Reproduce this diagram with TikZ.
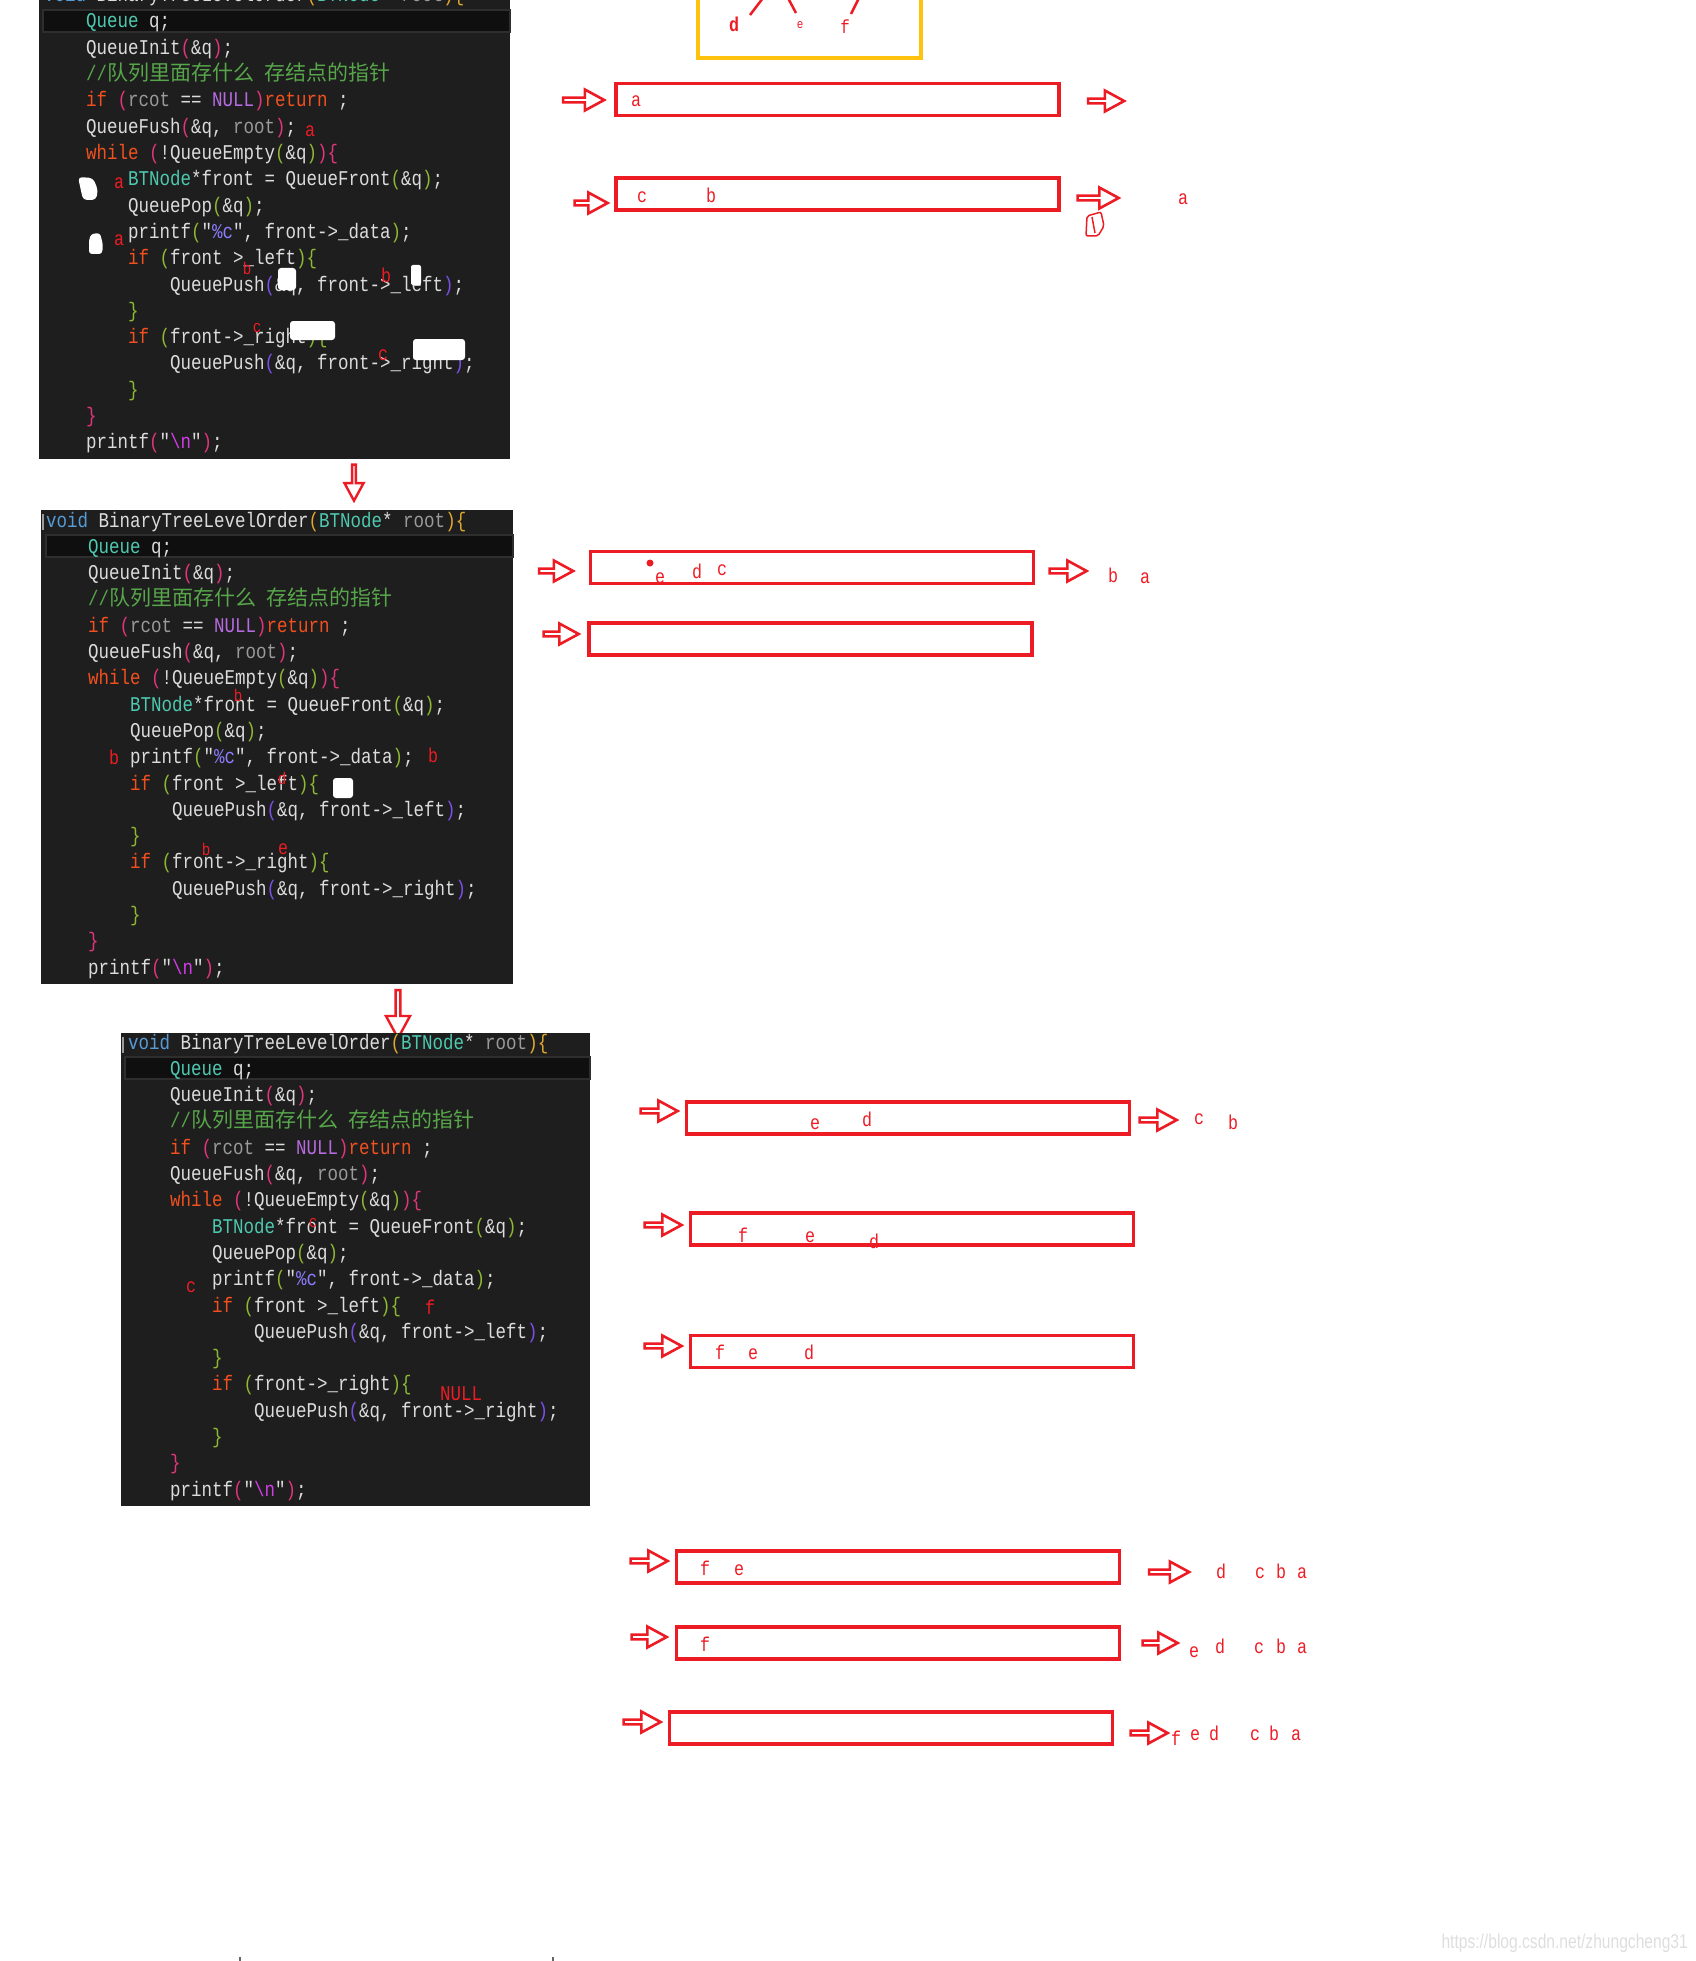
\documentclass[tikz,border=0pt]{standalone}
\usepackage{fontspec}
\usetikzlibrary{shapes.arrows}
\newfontfamily\codefont[FakeStretch=0.8333]{Liberation Mono}
\newfontfamily\cjkfont{Noto Sans CJK SC}
\newfontfamily\urlfont[FakeStretch=0.78]{Liberation Sans}

\definecolor{codebg}{HTML}{1E1E1E}
\definecolor{linebar}{HTML}{0F0F0F}
\definecolor{lineedge}{HTML}{2E2E2E}
\definecolor{codetx}{HTML}{DCDCDC}
\definecolor{codety}{HTML}{4EC9B0}
\definecolor{codekw}{HTML}{F2501E}
\definecolor{codecm}{HTML}{57A64A}
\definecolor{codemc}{HTML}{B86BE0}
\definecolor{codepa}{HTML}{9A9A9A}
\definecolor{codevd}{HTML}{569CD6}
\definecolor{codefm}{HTML}{8C7CFF}
\definecolor{codenl}{HTML}{D23CE8}
\definecolor{brgold}{HTML}{E0A82E}
\definecolor{brone}{HTML}{E0357A}
\definecolor{brtwo}{HTML}{8DB832}
\definecolor{brthree}{HTML}{7B4FE6}
\definecolor{paintred}{HTML}{ED1C24}
\definecolor{paintyellow}{HTML}{FFC20E}

\newlength\cw
\setlength\cw{10.5pt}
\newcommand{\ind}[1]{\hspace*{#1\cw}}
\newcommand{\cty}[1]{\textcolor{codety}{#1}}
\newcommand{\ckw}[1]{\textcolor{codekw}{#1}}
\newcommand{\cpa}[1]{\textcolor{codepa}{#1}}
\newcommand{\brg}[1]{\textcolor{brgold}{#1}}
\newcommand{\bro}[1]{\textcolor{brone}{#1}}
\newcommand{\brt}[1]{\textcolor{brtwo}{#1}}
\newcommand{\brh}[1]{\textcolor{brthree}{#1}}

% the lines of BinaryTreeLevelOrder, one item per line
\newcommand{\codelist}{%
{\textcolor{codevd}{void} BinaryTreeLevelOrder\brg{(}\cty{BTNode}* \cpa{root}\brg{)\{}},%
{\ind{4}\cty{Queue} q;},%
{\ind{4}QueueInit\bro{(}\&q\bro{)};},%
{\ind{4}\textcolor{codecm}{//{\cjkfont 队列里面存什么} {\cjkfont 存结点的指针}}},%
{\ind{4}\ckw{if} \bro{(}\cpa{rcot} == \textcolor{codemc}{NULL}\bro{)}\ckw{return} ;},%
{\ind{4}QueueFush\bro{(}\&q, \cpa{root}\bro{)};},%
{\ind{4}\ckw{while} \bro{(}!QueueEmpty\brt{(}\&q\brt{)}\bro{)\{}},%
{\ind{8}\cty{BTNode}*front = QueueFront\brt{(}\&q\brt{)};},%
{\ind{8}QueuePop\brt{(}\&q\brt{)};},%
{\ind{8}printf\brt{(}"\textcolor{codefm}{\%c}", front->\_data\brt{)};},%
{\ind{8}\ckw{if} \brt{(}front >\_left\brt{)\{}},%
{\ind{12}QueuePush\brh{(}\&q, front->\_left\brh{)};},%
{\ind{8}\brt{\}}},%
{\ind{8}\ckw{if} \brt{(}front->\_right\brt{)\{}},%
{\ind{12}QueuePush\brh{(}\&q, front->\_right\brh{)};},%
{\ind{8}\brt{\}}},%
{\ind{4}\bro{\}}},%
{\ind{4}printf\bro{(}"\textcolor{codenl}{\textbackslash n}"\bro{)};}%
}

\begin{document}
\begin{tikzpicture}[x=1pt,y=-1pt,
  codeline/.style={anchor=base west,inner sep=0pt,text=codetx,font=\codefont\fontsize{21}{26}\selectfont},
  redmark/.style={anchor=base,inner sep=0pt,text=paintred,font=\codefont\fontsize{20}{20}\selectfont},
  qbox/.style={draw=paintred,line width=3.5pt,minimum width=443pt,minimum height=32pt,inner sep=0pt},
  qarrow/.style={single arrow,draw=paintred,fill=white,line width=2.6pt,inner sep=0pt,
    minimum height=37pt,minimum width=21pt,single arrow head extend=4.5pt,single arrow tip angle=57},
  downarrow/.style={qarrow,shape border rotate=270}]
\useasboundingbox (0,0) rectangle (1696,1961);

% first step: a is taken out
\fill[codebg] (39,-5) rectangle (510,459);
\filldraw[fill=linebar,draw=lineedge,line width=1.5pt] (43,10) rectangle (510,32);
\foreach \codeln [count=\i from 0] in \codelist
  \node[codeline] (codeA-\i) at (44,1.7+\i*26.3) {\codeln};
\fill[white,rounded corners=4pt] (78,177) -- (93,178) -- (98,190) -- (96,200) -- (83,200) -- cycle;
\fill[white,rounded corners=3pt] (91,234) -- (100,233) -- (103,245) -- (102,254) -- (89,254) -- (89,240) -- cycle;
\fill[white,rounded corners=3pt] (278,268) rectangle (296,290);
\fill[white,rounded corners=2pt] (411,265) rectangle (421,285);
\fill[white,rounded corners=3pt] (290,321) rectangle (335,340);
\fill[white,rounded corners=3pt] (413,339) rectangle (465,360);
\node[redmark] (pushA) at (310,137) {a};
\node[redmark] (frontA) at (119,189) {a};
\node[redmark] (printA) at (119,246) {a};
\node[redmark,font=\codefont\fontsize{17}{17}\selectfont] (leftA) at (247,275) {b};
\node[redmark] (leftB) at (386,282) {b};
\node[redmark,font=\codefont\fontsize{17}{17}\selectfont] (rightA) at (257,332) {c};
\node[redmark] (rightB) at (383,360) {c};

\node[downarrow,minimum height=36pt,minimum width=19pt,single arrow head extend=5pt,line width=2.4pt] (down1) at (354,481) {};

% second step: b is taken out
\fill[codebg] (41,510) rectangle (513,984);
\filldraw[fill=linebar,draw=lineedge,line width=1.5pt] (46,535) rectangle (513,557);
\draw[codepa,line width=1.5pt] (43,514) -- (43,530);
\foreach \codeln [count=\i from 0] in \codelist
  \node[codeline] (codeB-\i) at (46,527+\i*26.3) {\codeln};
\fill[white,rounded corners=3pt] (333,778) rectangle (353,798);
\node[redmark,font=\codefont\fontsize{17}{17}\selectfont] (frontB) at (238,701) {b};
\node[redmark] (printB) at (114,764) {b};
\node[redmark] (printC) at (433,762) {b};
\node[redmark,font=\codefont\fontsize{17}{17}\selectfont] (leftD) at (282,784) {d};
\node[redmark,font=\codefont\fontsize{17}{17}\selectfont] (rightBb) at (206,855) {b};
\node[redmark] (rightE) at (283,854) {e};

\node[downarrow,minimum height=48pt,minimum width=24pt,single arrow head extend=5pt,line width=2.4pt] (down2) at (398,1012) {};

% third step: c is taken out
\fill[codebg] (121,1033) rectangle (590,1506);
\filldraw[fill=linebar,draw=lineedge,line width=1.5pt] (125,1057) rectangle (590,1079);
\draw[codepa,line width=1.5pt] (123,1037) -- (123,1053);
\foreach \codeln [count=\i from 0] in \codelist
  \node[codeline] (codeC-\i) at (128,1049+\i*26.3) {\codeln};
\node[redmark,font=\codefont\fontsize{17}{17}\selectfont] (frontC) at (313,1227) {c};
\node[redmark] (printD) at (191,1292) {c};
\node[redmark] (leftF) at (430,1314) {f};
\node[redmark,font=\codefont\fontsize{21}{21}\selectfont] (rightNull) at (461,1400) {NULL};

% the tree
\draw[paintyellow,line width=3.5pt] (698,-10) rectangle (921,58);
\draw[paintred,line width=2.5pt] (750,15) -- (763,-2);
\draw[paintred,line width=2.5pt] (788,-2) -- (796,13);
\draw[paintred,line width=2.5pt] (859,-2) -- (851,14);
\node[redmark,font=\codefont\bfseries\fontsize{20}{20}\selectfont] (treeD) at (734,32) {d};
\node[redmark,font=\codefont\fontsize{13}{13}\selectfont] (treeE) at (800,29) {e};
\node[redmark,font=\codefont\fontsize{19}{19}\selectfont] (treeF) at (845,34) {f};

% letters in the queue
\foreach \ch/\x/\y [count=\k] in {a/636/107, c/642/203, b/711/203,
    e/660/583, d/697/578, c/722/575, e/815/1129, d/867/1126,
    f/743/1242, e/810/1242, d/874/1248, f/720/1359, e/753/1359, d/809/1359,
    f/705/1575, e/739/1575, f/705/1651}
  \node[redmark] (inq-\k) at (\x,\y) {\ch};
\fill[paintred] (650,563) circle (3.5);

% the queue, step by step
\node[qbox] (q1) at (837.5,99.5) {};
\node[qbox] (q2) at (837.5,194) {};
\node[qbox] (q3) at (812,567.5) {};
\node[qbox] (q4) at (810.5,639) {};
\node[qbox] (q5) at (908,1118) {};
\node[qbox] (q6) at (912,1229) {};
\node[qbox] (q7) at (912,1351.5) {};
\node[qbox] (q8) at (898,1567) {};
\node[qbox] (q9) at (898,1643) {};
\node[qbox] (q10) at (891,1728) {};

\node[qarrow,minimum height=41pt] (in1) at (581.5,100) {};
\node[qarrow,minimum height=36pt] (out1) at (1104,101) {};
\node[qarrow,minimum height=33pt] (in2) at (589,203) {};
\node[qarrow,minimum height=41pt] (out2) at (1096,198) {};
\node[qarrow,minimum height=34pt] (in3) at (554,571) {};
\node[qarrow,minimum height=37pt] (out3) at (1066,571) {};
\node[qarrow,minimum height=35pt] (in4) at (559,634) {};
\node[qarrow] (in5) at (657,1111) {};
\node[qarrow] (out5) at (1156,1120) {};
\node[qarrow] (in6) at (661,1225) {};
\node[qarrow] (in7) at (661,1346) {};
\node[qarrow] (in8) at (647,1561) {};
\node[qarrow,minimum height=40pt] (out8) at (1167,1572) {};
\node[qarrow,minimum height=35pt] (in9) at (647,1637) {};
\node[qarrow,minimum height=35pt] (out9) at (1158,1643) {};
\node[qarrow] (in10) at (640,1722) {};
\node[qarrow] (out10) at (1147,1733) {};

% what has been printed
\foreach \ch/\x/\y [count=\k] in {a/1183/205, b/1113/582, a/1145/583,
    c/1199/1124, b/1233/1129,
    d/1221/1578, c/1260/1578, b/1281/1578, a/1302/1578,
    e/1194/1657, d/1220/1653, c/1259/1653, b/1281/1653, a/1302/1653,
    f/1176/1745, e/1195/1740, d/1214/1740, c/1255/1740, b/1274/1740, a/1296/1740}
  \node[redmark] (outq-\k) at (\x,\y) {\ch};
\draw[paintred,line width=1.5pt,rounded corners=2pt] (1087,216) -- (1101,212) -- (1104,226) -- (1098,236) -- (1086,236) -- cycle;
\draw[paintred,line width=1.5pt] (1092,217) -- (1095,233);

\node[anchor=base east,inner sep=0pt,text=black!13,font=\urlfont\fontsize{20}{20}\selectfont] (srcnote) at (1688,1948) {https://blog.csdn.net/zhungcheng31};
\fill[black!60] (239,1957) rectangle (241,1961);
\fill[black!60] (552,1957) rectangle (554,1961);
\end{tikzpicture}
\end{document}
